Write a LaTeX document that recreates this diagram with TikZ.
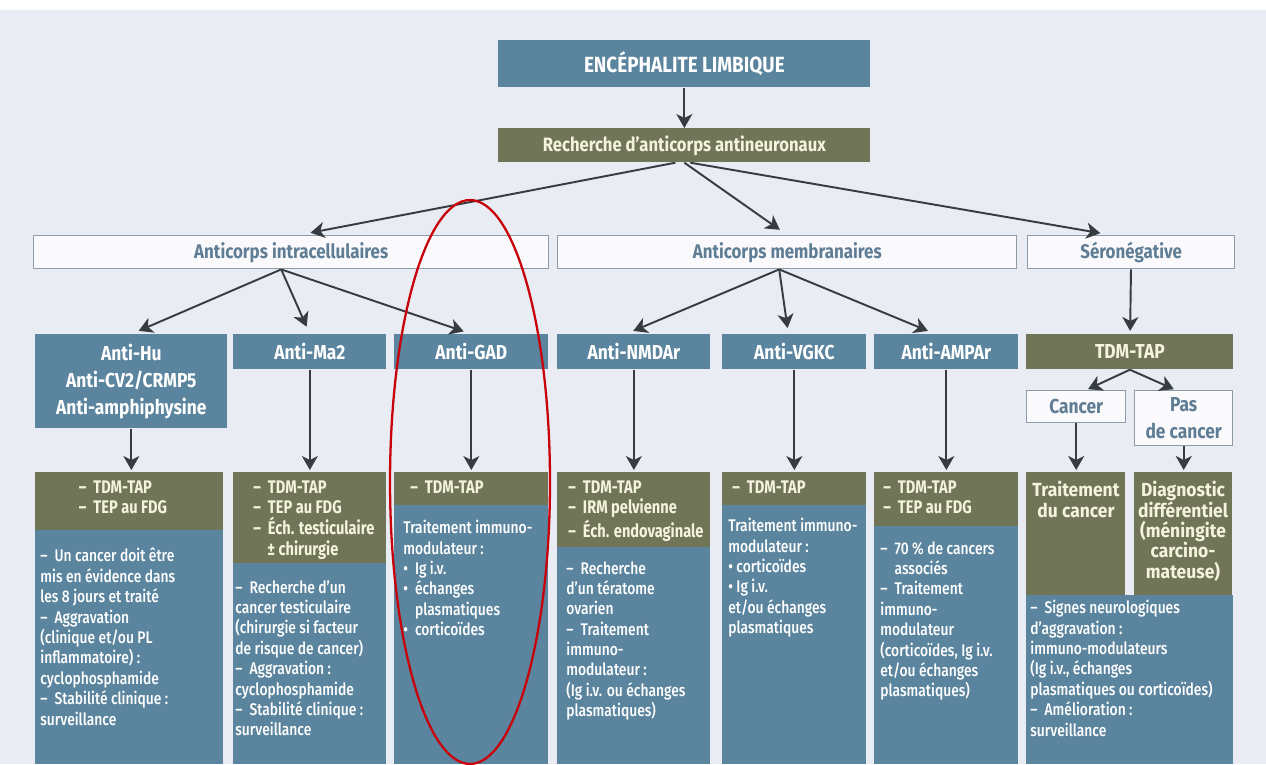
\documentclass[tikz,border=0pt]{standalone}
\usepackage{fontspec}
\setmainfont{Fira Sans}[FakeStretch=0.82, UprightFont=* Medium]
\newfontfamily\hdfam{Fira Sans}[FakeStretch=0.8]
\newfontfamily\widefam{Fira Sans}[FakeStretch=0.86]
\newfontfamily\xwfam{Fira Sans}[FakeStretch=0.92]
\usetikzlibrary{arrows.meta}

\definecolor{bgc}{RGB}{233,237,243}
\definecolor{boxblue}{RGB}{91,133,158}
\definecolor{boxolive}{RGB}{112,117,88}
\definecolor{boxline}{RGB}{140,155,168}
\definecolor{boxtext}{RGB}{95,125,148}
\definecolor{cream}{RGB}{245,242,222}
\definecolor{arrowc}{RGB}{55,60,65}
\definecolor{ringred}{RGB}{200,0,10}

\newcommand\ftitle{\widefam\fontsize{12.5}{14}\selectfont\bfseries}
\newcommand\frech{\widefam\fontsize{11}{13}\selectfont\bfseries}
\newcommand\fwhite{\widefam\fontsize{11.2}{13}\selectfont\bfseries}
\newcommand\fanti{\widefam\fontsize{11.5}{15.3}\selectfont\bfseries}
\newcommand\fhdr{\hdfam\fontsize{10.4}{11.9}\selectfont\bfseries}
\newcommand\fcol{\xwfam\fontsize{10.8}{11.6}\selectfont\bfseries}
\newcommand\fbody{\fontsize{9.6}{11.6}\selectfont}
\newcommand\dd{–\hspace{4pt}}
\newcommand\bl{•\hspace{4pt}}

\tikzset{
  sz/.style 2 args={minimum width=#1*0.02cm, minimum height=#2*0.02cm},
  bluebox/.style={anchor=north west, inner sep=0pt, fill=boxblue, text=white},
  olivebox/.style={anchor=north west, inner sep=0pt, fill=boxolive, text=cream},
  whitebox/.style={anchor=north west, inner sep=0pt, fill=white!75!bgc, draw=boxline,
    line width=0.8pt, text=boxtext, font=\fwhite},
  hdtxt/.style={anchor=north west, inner sep=0pt, align=left, text=cream, font=\fhdr},
  bodytxt/.style={anchor=north west, inner sep=0pt, align=left, text=white, font=\fbody},
  arr/.style={draw=arrowc, line width=1.1pt,
    -{Stealth[length=0.28cm, width=0.32cm, inset=0.08cm]}},
}

\begin{document}
\begin{tikzpicture}[x=0.02cm,y=-0.02cm]
  \useasboundingbox (0,0) rectangle (1266,764);
  \fill[bgc] (0,10) rectangle (1266,764);

  \node[bluebox, sz={372}{47}, font=\ftitle] (enc) at (498,40) {ENCÉPHALITE LIMBIQUE};
  \node[olivebox, sz={372}{34}, font=\frech] (rech) at (498,128) {Recherche d’anticorps antineuronaux};

  \node[whitebox, sz={515}{33}] (intra) at (33,235) {Anticorps intracellulaires};
  \node[whitebox, sz={459}{33}] (memb) at (557,235) {Anticorps membranaires};
  \node[whitebox, sz={207}{33}] (sero) at (1027,235) {Séronégative};

  \node[bluebox, sz={192}{94}, font=\fanti, align=center] (hu) at (35,334)
    {Anti-Hu\\Anti-CV2/CRMP5\\Anti-amphiphysine};
  \node[bluebox, sz={153}{35}, font=\fanti] (ma2) at (233,334) {Anti-Ma2};
  \node[bluebox, sz={154}{35}, font=\fanti] (gad) at (394,334) {Anti-GAD};
  \node[bluebox, sz={153}{35}, font=\fanti] (nmda) at (557,334) {Anti-NMDAr};
  \node[bluebox, sz={144}{35}, font=\fanti] (vgkc) at (722,334) {Anti-VGKC};
  \node[bluebox, sz={144}{35}, font=\fanti] (ampa) at (874,334) {Anti-AMPAr};
  \node[olivebox, sz={207}{35}, font=\fanti] (tdm) at (1026,334) {TDM-TAP};

  \node[whitebox, sz={99}{32}, font=\fanti] (cancer) at (1026,390) {Cancer};
  \node[whitebox, sz={98}{55}, font=\fanti, align=center] (pas) at (1134,390) {Pas\\de cancer};

  % colonnes du bas
  \node[olivebox, sz={188}{58}] (hu-hd) at (35,472) {};
  \node[bluebox, sz={188}{234}] (hu-bd) at (35,530) {};
  \node[olivebox, sz={153}{91}] (ma2-hd) at (233,472) {};
  \node[bluebox, sz={153}{201}] (ma2-bd) at (233,563) {};
  \node[olivebox, sz={154}{33}] (gad-hd) at (394,472) {};
  \node[bluebox, sz={154}{259}] (gad-bd) at (394,505) {};
  \node[olivebox, sz={153}{75}] (nmda-hd) at (557,472) {};
  \node[bluebox, sz={153}{217}] (nmda-bd) at (557,547) {};
  \node[olivebox, sz={144}{33}] (vgkc-hd) at (722,472) {};
  \node[bluebox, sz={144}{259}] (vgkc-bd) at (722,505) {};
  \node[olivebox, sz={144}{54}] (ampa-hd) at (874,472) {};
  \node[bluebox, sz={144}{238}] (ampa-bd) at (874,526) {};
  \node[olivebox, sz={99}{123}] (trait) at (1026,472) {};
  \node[olivebox, sz={98}{123}] (diag) at (1134,472) {};
  \node[bluebox, sz={207}{169}] (sero-bd) at (1026,595) {};

  \node[hdtxt, anchor=north] (hu-t) at (123,480) {\dd TDM-TAP\\\dd TEP au FDG};
  \node[hdtxt] (ma2-t) at (253,480)
    {\dd TDM-TAP\\\dd TEP au FDG\\\dd Éch. testiculaire\\\hspace{8pt}± chirurgie};
  \node[hdtxt] (gad-t) at (410,480) {\dd TDM-TAP};
  \node[hdtxt] (nmda-t) at (568,480) {\dd TDM-TAP\\\dd IRM pelvienne\\\dd Éch. endovaginale};
  \node[hdtxt] (vgkc-t) at (732,480) {\dd TDM-TAP};
  \node[hdtxt] (ampa-t) at (883,480) {\dd TDM-TAP\\\dd TEP au FDG};
  \node[hdtxt, anchor=north, align=center, font=\fcol] (trait-t) at (1076,481) {Traitement\\du cancer};
  \node[hdtxt, anchor=north, align=center, font=\fcol] (diag-t) at (1183,481)
    {Diagnostic\\différentiel\\(méningite\\carcino-\\mateuse)};

  \node[bodytxt] (hu-b) at (40,548)
    {\dd Un cancer doit être\\mis en évidence dans\\les 8 jours et traité\\
     \dd Aggravation\\(clinique et/ou PL\\inflammatoire) :\\cyclophosphamide\\
     \dd Stabilité clinique :\\surveillance};
  \node[bodytxt] (ma2-b) at (235,580)
    {\dd Recherche d’un\\cancer testiculaire\\(chirurgie si facteur\\de risque de cancer)\\
     \dd Aggravation :\\cyclophosphamide\\\dd Stabilité clinique :\\surveillance};
  \node[bodytxt] (gad-b) at (403,520)
    {Traitement immuno-\\modulateur :\\\bl Ig i.v.\\\bl échanges\\
     \phantom{\bl}plasmatiques\\\bl corticoïdes};
  \node[bodytxt] (nmda-b) at (566,561)
    {\dd Recherche\\d’un tératome\\ovarien\\\dd Traitement\\immuno-\\modulateur :\\
     (Ig i.v. ou échanges\\plasmatiques)};
  \node[bodytxt] (vgkc-b) at (728,518)
    {Traitement immuno-\\modulateur :\\• corticoïdes\\• Ig i.v.\\et/ou échanges\\plasmatiques};
  \node[bodytxt] (ampa-b) at (880,541)
    {\dd 70 \% de cancers\\\phantom{\dd}associés\\\dd Traitement\\immuno-\\modulateur\\
     (corticoïdes, Ig i.v.\\et/ou échanges\\plasmatiques)};
  \node[bodytxt] (sero-b) at (1030,600)
    {\dd Signes neurologiques\\d’aggravation :\\immuno-modulateurs\\(Ig i.v., échanges\\
     plasmatiques ou corticoïdes)\\\dd Amélioration :\\surveillance};

  \begin{scope}[arr]
    \draw (enc) -- (rech);
    \draw[shorten >=0.24cm] ([xshift=-0.18cm]rech.south) -- ([xshift=0.15cm]intra.north);
    \draw[shorten >=0.18cm] (rech.south) -- (memb.north);
    \draw[shorten >=0.22cm] ([xshift=0.12cm]rech.south) -- ([xshift=-0.4cm]sero.north);
    \draw[shorten >=0.16cm] ([xshift=-0.2cm]intra.south) -- (hu.north);
    \draw[shorten >=0.16cm] ([xshift=-0.2cm]intra.south) -- (ma2.north);
    \draw[shorten >=0.16cm] ([xshift=-0.2cm]intra.south) -- (gad.north);
    \draw[shorten >=0.16cm] ([xshift=-0.16cm]memb.south) -- ([xshift=-0.16cm]nmda.north);
    \draw[shorten >=0.12cm] ([xshift=-0.16cm]memb.south) -- ([xshift=-0.12cm]vgkc.north);
    \draw[shorten >=0.16cm] ([xshift=-0.16cm]memb.south) -- ([xshift=-0.22cm]ampa.north);
    \draw[shorten >=0.06cm] (sero) -- (tdm);
    \draw[shorten >=0.04cm] (tdm.south) -- ([xshift=0.2cm]cancer.north);
    \draw[shorten >=0.04cm] (tdm.south) -- ([xshift=-0.16cm]pas.north);
    \draw[shorten >=0.04cm] (hu.south) -- (hu.south |- hu-hd.north);
    \draw[shorten >=0.04cm] (ma2.south) -- (ma2.south |- ma2-hd.north);
    \draw[shorten >=0.04cm] (gad.south) -- (gad.south |- gad-hd.north);
    \draw[shorten >=0.04cm] (nmda.south) -- (nmda.south |- nmda-hd.north);
    \draw[shorten >=0.04cm] (vgkc.south) -- (vgkc.south |- vgkc-hd.north);
    \draw[shorten >=0.04cm] (ampa.south) -- (ampa.south |- ampa-hd.north);
    \draw[shorten >=0.04cm] (cancer.south) -- (cancer.south |- trait.north);
    \draw[shorten >=0.04cm] (pas.south) -- (pas.south |- diag.north);
  \end{scope}

  \draw[ringred, line width=1.3pt] (470,482) ellipse [x radius=1.6cm, y radius=5.64cm];
\end{tikzpicture}
\end{document}
